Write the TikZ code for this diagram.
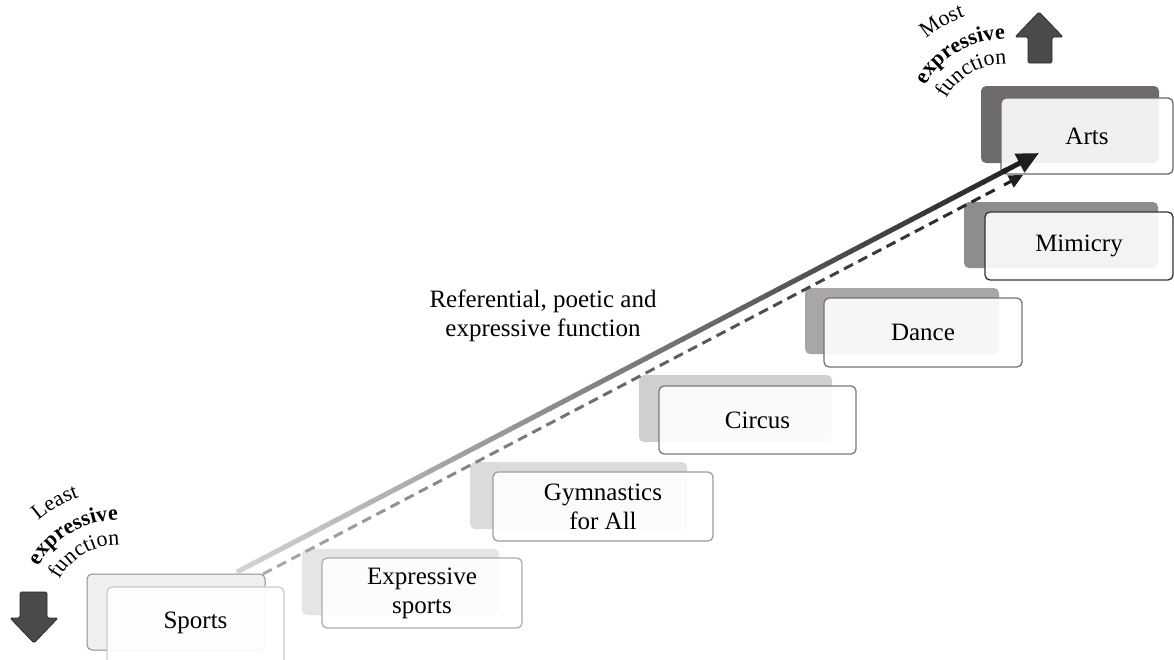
\documentclass[tikz,border=0pt]{standalone}
\usepackage{fontspec}
\setmainfont{Liberation Serif}
\usetikzlibrary{arrows.meta,calc,decorations.text}
\definecolor{lg}{HTML}{D2D2D2}
\definecolor{dg}{HTML}{1E1E1E}
\definecolor{dlg}{HTML}{AAAAAA}
\definecolor{iconfill}{HTML}{4A4A4A}
\definecolor{iconline}{HTML}{2A2A2A}
\newcommand\mainfs{\fontsize{25}{29}\selectfont}
\newcommand\curvefs{\fontsize{22}{22}\selectfont}
\tikzset{
  backbox/.style={rounded corners=5pt, inner sep=0pt, draw=none},
  frontbox/.style={rounded corners=5pt, inner sep=0pt, fill=white, fill opacity=0.9, text opacity=1,
    line width=1.3pt, align=center, font=\mainfs},
  curvetext/.style={decorate, decoration={text along path, text align=center, text={#1}}},
  icon/.style={fill=iconfill, draw=iconline, line width=0.8pt, rounded corners=1.5pt}
}
\begin{document}
\begin{tikzpicture}[x=1pt,y=-1pt]
\useasboundingbox (0,0) rectangle (1174,659);
\fill[white] (0,0) rectangle (1174,659);

% back boxes
\node[backbox, fill=black!6, draw=black!45, line width=1pt, minimum width=178pt, minimum height=76pt] (sportsB) at (176,612) {};
\node[backbox, fill=black!10, minimum width=197pt, minimum height=66pt] (expB) at (400.5,582) {};
\node[backbox, fill=black!14, minimum width=217pt, minimum height=67pt] (gymB) at (578.5,495.5) {};
\node[backbox, fill=black!19, minimum width=193pt, minimum height=67pt] (circB) at (735.5,408.5) {};
\node[backbox, fill={rgb,255:red,170;green,166;blue,166}, minimum width=194pt, minimum height=66pt] (danceB) at (902,321) {};
\node[backbox, fill={rgb,255:red,142;green,140;blue,140}, minimum width=194pt, minimum height=66pt] (mimB) at (1061,235) {};
\node[backbox, fill={rgb,255:red,111;green,107;blue,107}, minimum width=178pt, minimum height=77pt] (artsB) at (1070,124.5) {};

% front boxes
\node[frontbox, draw=black!20, minimum width=177pt, minimum height=80pt] (sports) at (195.5,627) {};
\node[font=\mainfs] (sportsT) at (195.5,623) {Sports};
\node[frontbox, draw=black!32, minimum width=200pt, minimum height=70pt] (exp) at (422,593) {Expressive\\sports};
\node[frontbox, draw=black!38, minimum width=220pt, minimum height=69pt] (gym) at (603,506.5) {Gymnastics\\for All};
\node[frontbox, draw=black!52, minimum width=197pt, minimum height=68pt] (circ) at (757.5,420) {Circus};
\node[frontbox, draw=black!55, minimum width=198pt, minimum height=69pt] (dance) at (923,332.5) {Dance};
\node[frontbox, draw=black!80, minimum width=188pt, minimum height=68pt] (mim) at (1079,246) {Mimicry};
\node[frontbox, draw=black!58, minimum width=172pt, minimum height=76pt] (arts) at (1087,136) {Arts};

% central label
\node[font=\mainfs, align=center] (ref) at (543,316) {Referential, poetic and\\expressive function};

% solid gradient arrow
\coordinate (s1) at (237,572);
\coordinate (e1) at (1039,153);
\foreach \i in {0,...,63}{
  \pgfmathsetmacro\ta{\i*0.96/64}
  \pgfmathsetmacro\tb{(\i+1.05)*0.96/64}
  \pgfmathsetmacro\p{100*\ta}
  \draw[line width=5pt, color=dg!\p!lg] ($(s1)!\ta!(e1)$) -- ($(s1)!\tb!(e1)$);
}
\draw[line width=5pt, color=dg, -{Triangle[length=22pt,width=20pt]}] ($(s1)!0.955!(e1)$) -- (e1);

% dashed gradient arrow
\coordinate (s2) at (263,574);
\coordinate (e2) at (1023,175);
\foreach \i in {0,...,51}{
  \pgfmathsetmacro\ta{\i*0.01865}
  \pgfmathsetmacro\tb{\ta+0.0117}
  \pgfmathsetmacro\p{100*\ta}
  \draw[line width=3pt, color=dg!\p!dlg] ($(s2)!\ta!(e2)$) -- ($(s2)!\tb!(e2)$);
}
\draw[line width=3pt, color=dg, -{Triangle[length=14pt,width=13pt]}] ($(s2)!0.975!(e2)$) -- (e2);

% icons
\draw[icon] (20,592) -- (47,592) -- (47,618) -- (58,618) -- (34,643) -- (10,618) -- (20,618) -- cycle;
\draw[icon] (1028,63) -- (1052,63) -- (1052,37) -- (1063,37) -- (1039,12) -- (1015,37) -- (1028,37) -- cycle;

% curved labels, bottom left
\coordinate (c1) at (118,612);
\path[curvetext={|\curvefs|Least}] (c1) ++(182:121) arc[start angle=182, end angle=298, radius=121];
\path[curvetext={|\curvefs\bfseries|expressive}] (c1) ++(182:92) arc[start angle=182, end angle=298, radius=92];
\path[curvetext={|\curvefs|function}] (c1) ++(182:67) arc[start angle=182, end angle=298, radius=67];

% curved labels, top right
\coordinate (c2) at (1005,131);
\path[curvetext={|\curvefs|Most}] (c2) ++(182:121) arc[start angle=182, end angle=298, radius=121];
\path[curvetext={|\curvefs\bfseries|expressive}] (c2) ++(182:92) arc[start angle=182, end angle=298, radius=92];
\path[curvetext={|\curvefs|function}] (c2) ++(182:67) arc[start angle=182, end angle=298, radius=67];
\end{tikzpicture}
\end{document}
